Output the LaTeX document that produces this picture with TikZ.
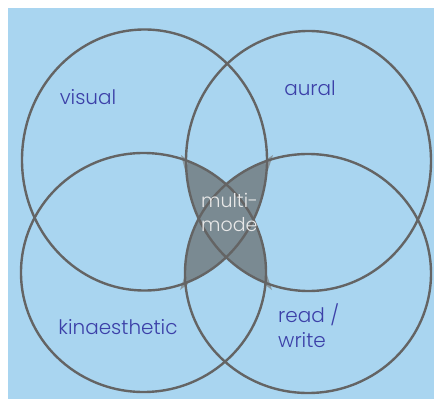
\documentclass[tikz,border=0pt]{standalone}
\usepackage{fontspec}
\setmainfont{Poppins}[UprightFont={* Light}]
\usepackage{tikz}
\usepackage{xcolor}
\definecolor{skyback}{RGB}{169,213,240}
\definecolor{ringgray}{RGB}{100,100,100}
\definecolor{modefill}{RGB}{122,138,146}
\definecolor{flaregray}{RGB}{138,153,161}
\definecolor{labelblue}{RGB}{60,64,168}
\definecolor{modetext}{RGB}{232,232,232}

\begin{document}
\begin{tikzpicture}[x=1pt,y=-1pt,
  ring/.style={draw=ringgray,line width=2.4pt},
  flare/.style={fill=flaregray},
  sense/.style={text=labelblue,font=\fontsize{20}{25}\selectfont,inner sep=0pt},
  multi/.style={text=modetext,font=\fontsize{19}{24}\selectfont,inner sep=0pt,align=left,anchor=west}]
\useasboundingbox (0,0) rectangle (434,399);
\fill[white] (0,0) rectangle (434,399);
\fill[skyback] (8,8) rectangle (434,399);
% shaded overlap of the diagonal pairs
\begin{scope}
  \clip (144.5,160) ellipse [x radius=122.5,y radius=130.5];
  \fill[modefill] (308,273.5) ellipse [x radius=123,y radius=119.5];
\end{scope}
\begin{scope}
  \clip (308.5,161) ellipse [x radius=122.5,y radius=130];
  \fill[modefill] (143.5,272.5) ellipse [x radius=122.5,y radius=119.5];
\end{scope}
% little tips sticking out at the corners
\fill[flare] (181,155) -- (189,161) -- (185,170) -- cycle;
\fill[flare] (273,155) -- (264,161) -- (268,170) -- cycle;
\fill[flare] (180,290) -- (188,284) -- (185,275) -- cycle;
\fill[flare] (272,290) -- (264,284) -- (267,275) -- cycle;
% the four circles
\draw[ring] (144.5,160) ellipse [x radius=122.5,y radius=130.5];
\draw[ring] (308.5,161) ellipse [x radius=122.5,y radius=130];
\draw[ring] (143.5,272.5) ellipse [x radius=122.5,y radius=119.5];
\draw[ring] (308,273.5) ellipse [x radius=123,y radius=119.5];
% labels
\node[sense] (visual) at (88,97) {visual};
\node[sense] (aural) at (310,88) {aural};
\node[sense] (kin) at (118,327) {kinaesthetic};
\node[sense,align=left,anchor=west] (rw) at (278,325.5) {read /\\write};
\node[multi] (mm) at (201,212) {multi-\\mode};
\end{tikzpicture}
\end{document}
